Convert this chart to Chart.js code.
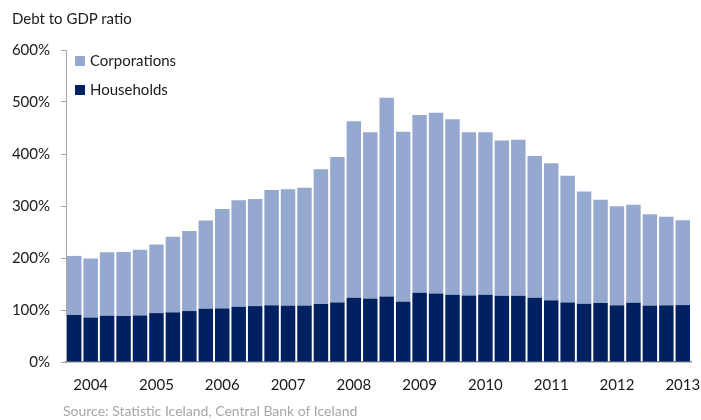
<!DOCTYPE html>
<html>
<head>
<meta charset="utf-8">
<script src="https://cdn.jsdelivr.net/npm/chart.js@4/dist/chart.umd.min.js"></script>
<style>
  html, body { margin: 0; padding: 0; background: #fff; }
  #wrap { position: relative; width: 701px; height: 420px; overflow: hidden; font-family: Lato, "Open Sans", sans-serif; }
  #title { position: absolute; left: 12px; top: 9px; font-size: 15px; color: #1a1a1a; }
  #source { position: absolute; left: 63px; top: 402px; font-size: 14px; color: #a6a6a6; white-space: nowrap; }
  canvas { position: absolute; left: 0; top: 0; }
</style>
</head>
<body>
<div id="wrap">
  <canvas id="c" width="701" height="420"></canvas>
  <div id="title">Debt to GDP ratio</div>
  <div id="source">Source: Statistic Iceland, Central Bank of Iceland</div>
</div>
<script>
const quarters = [];
for (let y = 2004; y <= 2013; y++) { for (let q = 1; q <= 4; q++) { if (quarters.length < 38) quarters.push(y + 'Q' + q); } }

const yearLabels = ['2004','2005','2006','2007','2008','2009','2010','2011','2012','2013'];

const totalDebt = [204, 199, 211, 211.5, 216, 226, 241, 252, 272, 294, 311, 313.5, 331, 332, 335, 370.5, 394, 463, 442, 508,
                   443, 475, 479.5, 467, 442, 442, 426, 427.5, 396, 382, 358, 328, 312, 299.5, 302.5, 284, 279.5, 272.5];
const households = [90.5, 85.5, 89, 88.5, 89.5, 94, 95.5, 98, 102.5, 103, 106, 107.5, 109, 108.5, 108.5, 111.5, 114.5, 123.5, 122, 126,
                    116, 133, 131.5, 129.5, 128, 129.5, 127.5, 127.5, 123.5, 118.5, 114.5, 112, 113.5, 109, 114, 108.5, 109, 109.5];
const corporations = totalDebt.map((t, i) => Math.round((t - households[i]) * 10) / 10);

const yTicks = [0, 100, 200, 300, 400, 500, 600];

const FONT = 'Lato, "Open Sans", sans-serif';

const legendPlugin = {
  id: 'insideLegend',
  afterDraw(chart) {
    const ctx = chart.ctx;
    const area = chart.chartArea;
    const items = [chart.data.datasets[1], chart.data.datasets[0]];
    ctx.save();
    ctx.font = '15px ' + FONT;
    ctx.textBaseline = 'middle';
    items.forEach((ds, i) => {
      const cy = area.top + 11 + i * 29;
      ctx.fillStyle = ds.backgroundColor;
      ctx.fillRect(area.left + 9, cy - 5, 10, 10);
      ctx.fillStyle = '#1a1a1a';
      ctx.fillText(ds.label, area.left + 24, cy);
    });
    ctx.restore();
  }
};

new Chart(document.getElementById('c'), {
  type: 'bar',
  data: {
    labels: quarters,
    datasets: [
      { label: 'Households', data: households, backgroundColor: '#002060', borderWidth: 0, stack: 's',
        barPercentage: 0.88, categoryPercentage: 1 },
      { label: 'Corporations', data: corporations, backgroundColor: '#95a9d0', borderWidth: 0, stack: 's',
        barPercentage: 0.88, categoryPercentage: 1 }
    ]
  },
  options: {
    responsive: false,
    animation: false,
    devicePixelRatio: 1,
    layout: { padding: { left: 0, right: 1, top: 50, bottom: 0 } },
    plugins: { legend: { display: false }, tooltip: { enabled: false }, title: { display: false } },
    scales: {
      x: {
        stacked: true,
        grid: { display: false, drawTicks: false },
        border: { display: true, color: '#8c8c8c', width: 1.5 },
        ticks: {
          autoSkip: false, maxRotation: 0, padding: 14,
          font: { family: FONT, size: 15 }, color: '#1a1a1a',
          callback: (v, i) => (i % 4 === 1 ? yearLabels[(i - 1) / 4] : '')
        },
        afterFit: s => { s.height = 58; s.paddingRight = 10; }
      },
      y: {
        stacked: true,
        min: 0, max: 600,
        afterBuildTicks: s => { s.ticks = yTicks.map(v => ({ value: v })); },
        grid: { display: true, drawOnChartArea: false, drawTicks: true, tickLength: 5, color: '#a6a6a6' },
        border: { display: true, color: '#a6a6a6', width: 1 },
        ticks: {
          padding: 11,
          font: { family: FONT, size: 15 }, color: '#1a1a1a',
          callback: v => v + '%'
        },
        afterFit: s => { s.width = 66; }
      }
    }
  },
  plugins: [legendPlugin]
});
</script>
</body>
</html>
